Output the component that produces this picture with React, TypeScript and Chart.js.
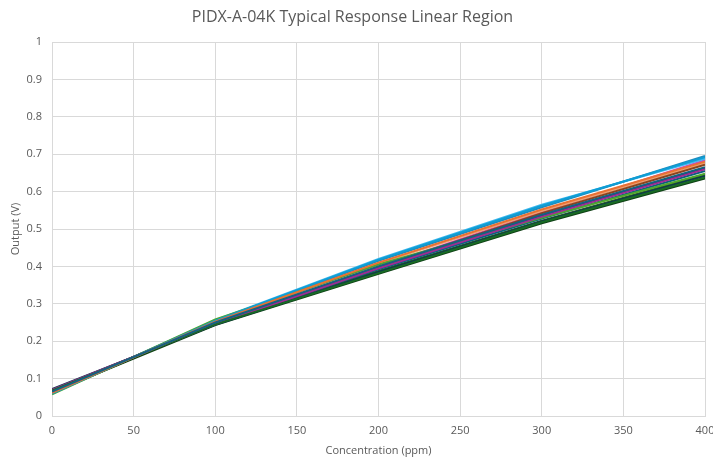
import React, { useEffect, useRef } from "react";
import { Chart, registerables } from "chart.js";

Chart.register(...registerables);

const concentrations = [0, 100, 200, 300, 400];

const seriesColors = [
  "#156082", "#E97132", "#196B24", "#0F9ED5", "#A02B93", "#4EA72E",
  "#0D3A4E", "#8B441E", "#0F4015", "#095F80", "#601A58", "#2F641C",
  "#1F8BBD", "#F0A070", "#3EB8EE", "#CC4BBD",
];

const s1 = [0.065, 0.25, 0.4, 0.538, 0.665];
const s2 = [0.062, 0.252, 0.41, 0.552, 0.68];
const s3 = [0.068, 0.245, 0.382, 0.518, 0.638];
const s4 = [0.06, 0.255, 0.418, 0.562, 0.692];
const s5 = [0.07, 0.246, 0.395, 0.533, 0.66];
const s6 = [0.058, 0.258, 0.405, 0.53, 0.648];
const s7 = [0.072, 0.244, 0.385, 0.52, 0.642];
const s8 = [0.066, 0.25, 0.398, 0.542, 0.672];
const s9 = [0.064, 0.243, 0.38, 0.515, 0.635];
const s10 = [0.063, 0.249, 0.392, 0.528, 0.655];
const s11 = [0.069, 0.247, 0.394, 0.535, 0.662];
const s12 = [0.061, 0.25, 0.388, 0.522, 0.645];
const s13 = [0.062, 0.254, 0.415, 0.558, 0.695];
const s14 = [0.064, 0.251, 0.408, 0.548, 0.675];
const s15 = [0.06, 0.256, 0.42, 0.565, 0.688];
const s16 = [0.067, 0.248, 0.4, 0.545, 0.684];

const allSeries = [s1, s2, s3, s4, s5, s6, s7, s8, s9, s10, s11, s12, s13, s14, s15, s16];

const titleText = "PIDX-A-04K Typical Response Linear Region";
const xTitle = "Concentration (ppm)";
const yTitle = "Output (V)";

const FONT = "'Open Sans', 'Noto Sans', sans-serif";
const TEXT = "#595959";
const GRID = "#D9D9D9";

export default function App() {
  const ref = useRef<HTMLCanvasElement | null>(null);

  useEffect(() => {
    if (!ref.current) return;
    const datasets = allSeries.map((vals, i) => ({
      label: "Series" + (i + 1),
      data: concentrations.map((c, j) => ({ x: c, y: vals[j] })),
      borderColor: seriesColors[i],
      backgroundColor: seriesColors[i],
      borderWidth: 2,
      pointRadius: 0,
      showLine: true,
      fill: false,
      tension: 0,
    }));
    const chart = new Chart(ref.current, {
      type: "scatter",
      data: { datasets },
      options: {
        animation: false,
        responsive: false,
        maintainAspectRatio: false,
        layout: { padding: { left: 0, right: 8, top: 0, bottom: 0 } },
        plugins: {
          legend: { display: false },
          tooltip: { enabled: false },
          title: {
            display: true,
            text: titleText,
            color: TEXT,
            font: { family: FONT, size: 16, weight: "normal" },
            padding: { top: 8, bottom: 14.8 },
          },
        },
        scales: {
          x: {
            type: "linear",
            min: 0,
            max: 400,
            ticks: {
              stepSize: 50,
              color: TEXT,
              font: { family: FONT, size: 11 },
              padding: 8,
              maxRotation: 0,
            },
            grid: { color: GRID, drawTicks: false },
            border: { color: GRID },
            title: {
              display: true,
              text: xTitle,
              color: TEXT,
              font: { family: FONT, size: 11 },
              padding: { top: 0, bottom: 0 },
            },
            afterFit: (scale: any) => {
              scale.height = 41;
              scale.paddingLeft = 0;
              scale.paddingRight = 0;
            },
          },
          y: {
            type: "linear",
            min: 0,
            max: 1,
            ticks: {
              stepSize: 0.1,
              color: TEXT,
              font: { family: FONT, size: 11 },
              padding: 10,
              callback: (v: any) => String(Number(Number(v).toFixed(1))),
            },
            grid: { color: GRID, drawTicks: false },
            border: { color: GRID },
            title: {
              display: true,
              text: yTitle,
              color: TEXT,
              font: { family: FONT, size: 11 },
              padding: { top: 9, bottom: 0 },
            },
            afterFit: (scale: any) => {
              scale.width = 52;
              scale.paddingTop = 0;
              scale.paddingBottom = 0;
            },
          },
        },
      },
    });
    return () => chart.destroy();
  }, []);

  return (
    <div style={{ position: "fixed", left: 0, top: 0, width: 713, height: 457, background: "#fff" }}>
      <canvas ref={ref} width={713} height={457} style={{ width: 713, height: 457 }} />
    </div>
  );
}
